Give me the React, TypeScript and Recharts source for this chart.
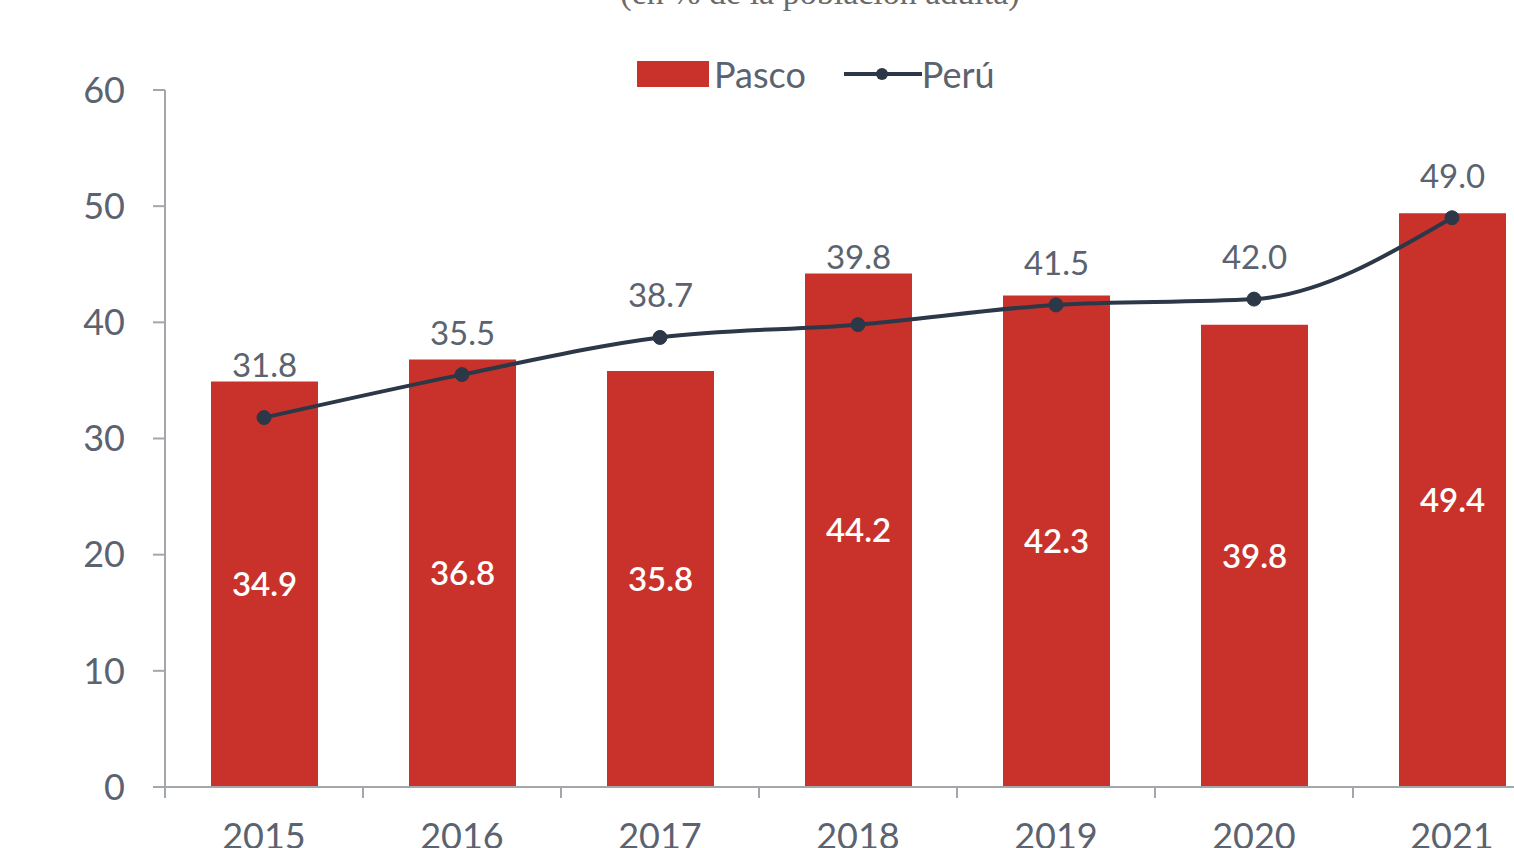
import {
  ComposedChart,
  Bar,
  Line,
  XAxis,
  YAxis,
  LabelList,
} from "recharts";

const years = ["2015", "2016", "2017", "2018", "2019", "2020", "2021"];
const pasco = [34.9, 36.8, 35.8, 44.2, 42.3, 39.8, 49.4];
const peru = [31.8, 35.5, 38.7, 39.8, 41.5, 42.0, 49.0];
const yTicks = [0, 10, 20, 30, 40, 50, 60];

const data = years.map((year, i) => ({ year, pasco: pasco[i], peru: peru[i] }));

const RED = "#c8322b";
const NAVY = "#2c3747";
const GREY = "#5b6270";
const AXIS = "#a3a6ab";
const FONT = "Lato, 'Noto Sans', sans-serif";

const chartW = 1600;
const chartH = 900;
const margin = { top: 90, right: 49, bottom: 53, left: 85 };
const band = (chartW - margin.left - margin.right - 80) / years.length;

function YearTick(props: any) {
  const { x, y, payload, index } = props;
  return (
    <g>
      <line x1={x + band / 2} y1={y} x2={x + band / 2} y2={y + 11} stroke={AXIS} strokeWidth={2} />
      {index === 0 && (
        <line x1={x - band / 2} y1={y} x2={x - band / 2} y2={y + 11} stroke={AXIS} strokeWidth={2} />
      )}
      <text x={x} y={y + 62} textAnchor="middle" fill={GREY} fontSize={36} fontFamily={FONT}>
        {payload.value}
      </text>
    </g>
  );
}

// Perú label: sits above the line point, but is lifted clear of a taller bar
function PeruLabel(props: any) {
  const { x, y, width, height, index, value } = props;
  const base = y + height;
  const perUnit = height / pasco[index];
  const pointY = base - Number(value) * perUnit;
  const cy = Math.min(pointY - 43, y - 18);
  return (
    <text
      x={x + width / 2}
      y={cy}
      textAnchor="middle"
      dominantBaseline="central"
      fill={GREY}
      fontSize={33}
      fontFamily={FONT}
    >
      {Number(value).toFixed(1)}
    </text>
  );
}

export default function App() {
  return (
    <div
      style={{
        position: "fixed",
        left: 0,
        top: 0,
        width: 1514,
        height: 848,
        overflow: "hidden",
        background: "#fff",
      }}
    >
      <div
        style={{
          position: "absolute",
          top: -26,
          left: 0,
          width: 1640,
          textAlign: "center",
          fontFamily: "'Liberation Serif', serif",
          fontSize: 34,
          color: "#6a6a6a",
        }}
      >
        (en % de la población adulta)
      </div>
      <div
        style={{
          position: "absolute",
          top: 52,
          left: 637,
          display: "flex",
          alignItems: "center",
          fontFamily: FONT,
          fontSize: 36,
          color: GREY,
        }}
      >
        <svg width={72} height={26} style={{ marginRight: 5 }}>
          <rect width={72} height={26} fill={RED} />
        </svg>
        <span>Pasco</span>
        <svg width={78} height={20} style={{ marginLeft: 38 }}>
          <line x1={0} y1={10} x2={78} y2={10} stroke={NAVY} strokeWidth={4} />
          <circle cx={38} cy={10} r={6} fill={NAVY} />
        </svg>
        <span>Perú</span>
      </div>
      <ComposedChart width={chartW} height={chartH} data={data} margin={margin}>
        <XAxis
          dataKey="year"
          height={60}
          tickSize={0}
          tickMargin={0}
          tick={<YearTick />}
          stroke={AXIS}
          strokeWidth={2}
          interval={0}
        />
        <YAxis
          width={80}
          domain={[0, 60]}
          ticks={yTicks}
          tickSize={12}
          tickMargin={28}
          stroke={AXIS}
          strokeWidth={2}
          tick={{ fill: GREY, fontSize: 36, fontFamily: FONT }}
        />
        <Bar dataKey="pasco" fill={RED} barSize={107} isAnimationActive={false}>
          <LabelList
            dataKey="pasco"
            position="center"
            fill="#ffffff"
            fontSize={33}
            fontWeight={600}
            fontFamily={FONT}
            formatter={(v: any) => Number(v).toFixed(1)}
          />
          <LabelList dataKey="peru" content={<PeruLabel />} />
        </Bar>
        <Line
          type="monotone"
          dataKey="peru"
          stroke={NAVY}
          strokeWidth={4}
          dot={{ r: 7, fill: NAVY, stroke: NAVY, strokeWidth: 1 }}
          isAnimationActive={false}
        />
      </ComposedChart>
    </div>
  );
}
